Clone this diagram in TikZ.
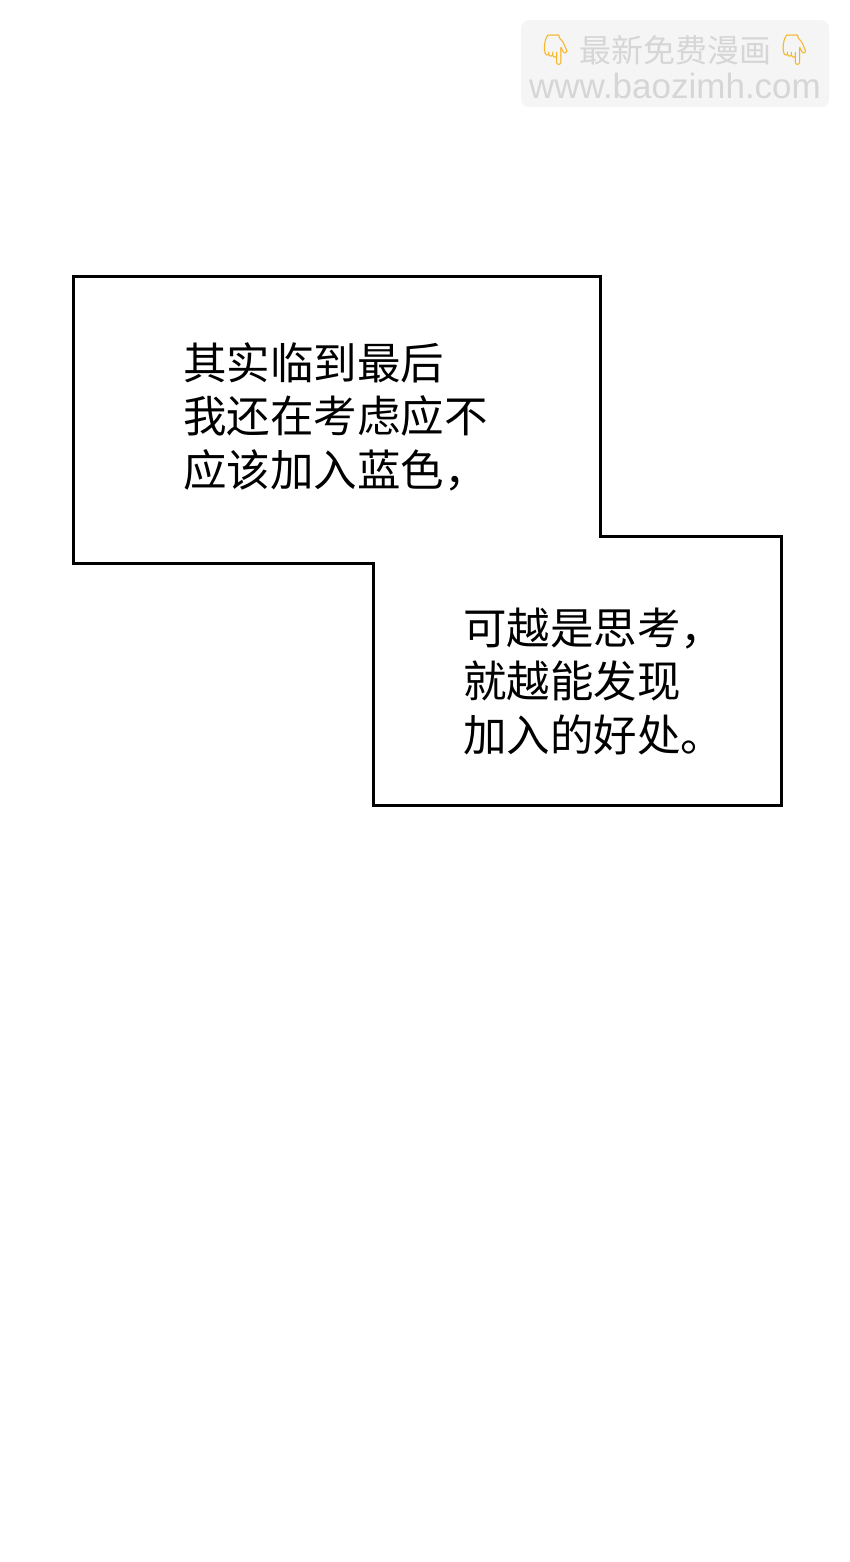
\documentclass[tikz,border=0pt]{standalone}
\usepackage{fontspec}
\newfontfamily\cjk{Noto Sans CJK SC}
\newfontfamily\emo{Noto Emoji}
\newfontfamily\wmsans{Liberation Sans}
\definecolor{wmbg}{RGB}{245,245,245}
\definecolor{wmtext}{RGB}{214,214,214}
\definecolor{emoji}{RGB}{244,182,40}
\tikzset{
  panel/.style={draw=black, line width=3pt, fill=white, line join=miter},
  speech/.style={anchor=base west, inner sep=0pt, align=left,
    font=\cjk\fontsize{43.5}{53.5}\selectfont, text=black},
  wmbox/.style={fill=wmbg, draw=none, rounded corners=8pt},
  wmline/.style={inner sep=0pt, text=wmtext},
}
\begin{document}
\begin{tikzpicture}[x=1pt,y=-1pt]
\useasboundingbox[fill=white] (0,0) rectangle (850,1562);
% watermark
\node[wmbox, minimum width=308pt, minimum height=87pt, anchor=north west] (wm) at (521,20) {};
\node[wmline, font=\cjk\fontsize{32}{32}\selectfont] (wm1) at (675,50) {最新免费漫画};
\node[wmline, text=emoji, font=\emo\fontsize{30}{30}\selectfont, anchor=east] (e1) at ([xshift=-4pt]wm1.west) {👇};
\node[wmline, text=emoji, font=\emo\fontsize{30}{30}\selectfont, anchor=west] (e2) at ([xshift=4pt]wm1.east) {👇};
\node[wmline, font=\wmsans\fontsize{35}{35}\selectfont] (wm2) at (675,86) {www.baozimh.com};
% panel outline
\draw[panel] (73,276) -- (600,276) -- (600,536) -- (781,536) -- (781,805)
  -- (373,805) -- (373,563) -- (73,563) -- cycle;
% text nodes: anchor is the baseline of the last line
\node[speech] (t1) at (183,486) {其实临到最后\\我还在考虑应不\\应该加入蓝色，};
\node[speech] (t2) at (463,751) {可越是思考，\\就越能发现\\加入的好处。};
\end{tikzpicture}
\end{document}
